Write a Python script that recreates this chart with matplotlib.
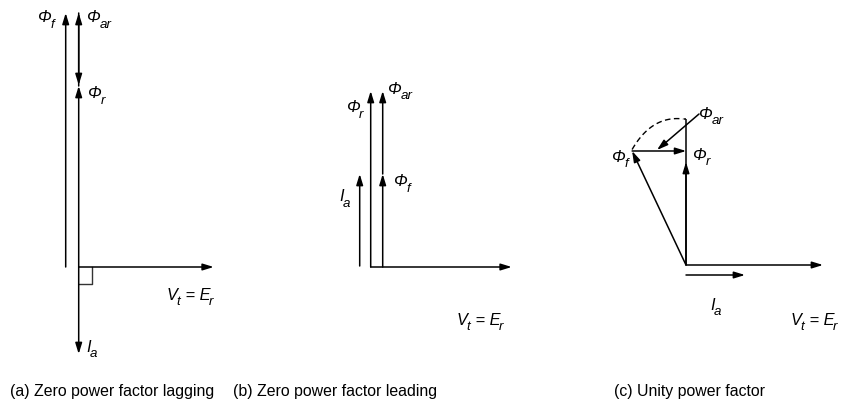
import numpy as np
import matplotlib
matplotlib.use("Agg")
import matplotlib.pyplot as plt

# ---------------- data (phasor magnitudes in diagram units, angles in degrees) -------------
a_names = ["phi_f", "phi_ar", "phi_r", "vt", "ia"]
a_mag = [254, 73, 181, 135, 87]
a_ang = [90, 270, 90, 0, 270]

b_names = ["phi_f", "phi_ar", "phi_r", "vt", "ia"]
b_mag = [93, 83, 176, 141, 92]
b_ang = [90, 90, 90, 0, 90]

c_names = ["phi_f", "phi_ar", "phi_ar_shift", "phi_r", "vt", "ia"]
c_mag = [126.1, 55.3, 54, 103, 137, 59]
c_ang = [115.3, 220.6, 0, 90, 0, 0]
c_phi_f_swing = 146          # length of vertical reference reached by swung Φf

captions = ["(a) Zero power factor lagging",
            "(b) Zero power factor leading",
            "(c) Unity power factor"]

LAB = "Liberation Sans"

fig = plt.figure(figsize=(8.48, 4.10), dpi=100)
ax = fig.add_axes([0, 0, 1, 1])
ax.set_xlim(0, 848)
ax.set_ylim(410, 0)
ax.axis("off")
renderer = fig.canvas.get_renderer()

LW = 1.1


def vec(mag, ang):
    r = np.deg2rad(ang)
    return np.array([mag * np.cos(r), -mag * np.sin(r)])


def arrow(tail, tip, lw=LW):
    ax.annotate("", xy=tuple(tip), xytext=tuple(tail),
                arrowprops=dict(arrowstyle="-|>,head_length=0.65,head_width=0.2",
                                color="black", lw=lw, shrinkA=0, shrinkB=0,
                                mutation_scale=10))


def line(p, q, **kw):
    ax.plot([p[0], q[0]], [p[1], q[1]], color="black", lw=LW,
            solid_capstyle="butt", **kw)


def rich(x, y, pieces, size=11.8):
    cur = x
    for txt, sub in pieces:
        fs = size * (0.82 if sub else 1.0)
        dy = 5.5 if sub else 0
        t = ax.text(cur, y + dy, txt, fontsize=fs, style="italic", family=LAB,
                    ha="left", va="baseline")
        bb = t.get_window_extent(renderer)
        cur += bb.width - (1.0 if not sub else 0)


def phi(x, y, sub):
    rich(x, y, [("Φ", False), (sub, True)])


def vt_er(x, y):
    rich(x, y, [("V", False), ("t", True), (" = E", False), ("r", True)])


def ia(x, y):
    rich(x, y, [("I", False), ("a", True)])


# ---------------- panel (a) ------------------------------------------------------------
A = dict(zip(a_names, range(5)))
oa = np.array([78.7, 268.0])
off_a = np.array([-13.0, 0.0])
f_tip = oa + off_a + vec(a_mag[A["phi_f"]], a_ang[A["phi_f"]])
arrow(oa + off_a, f_tip)
top = oa + vec(a_mag[A["phi_f"]], a_ang[A["phi_f"]])
r_tip = oa + vec(a_mag[A["phi_r"]], a_ang[A["phi_r"]])
arrow(oa, r_tip)
arrow(r_tip, top)
arrow(top, top + vec(a_mag[A["phi_ar"]], a_ang[A["phi_ar"]]) + np.array([0, -1]))
arrow(oa, oa + vec(a_mag[A["vt"]], a_ang[A["vt"]]))
arrow(oa, oa + vec(a_mag[A["ia"]], a_ang[A["ia"]]))
# right-angle marker
ax.plot([oa[0] + 13.5, oa[0] + 13.5, oa[0]], [oa[1], oa[1] + 16.5, oa[1] + 16.5],
        color="#333333", lw=1.0)
phi(38, 22.5, "f")
phi(86.5, 22.5, "ar")
phi(88, 98.5, "r")
vt_er(167, 300)
ia(86, 352)

# ---------------- panel (b) ------------------------------------------------------------
B = dict(zip(b_names, range(5)))
ob = np.array([370.7, 268.0])
off_f = np.array([12.0, 0.0])
off_i = np.array([-11.0, -1.0])
arrow(ob, ob + vec(b_mag[B["phi_r"]], b_ang[B["phi_r"]]))
fb_tip = ob + off_f + vec(b_mag[B["phi_f"]], b_ang[B["phi_f"]])
arrow(ob + off_f, fb_tip)
arrow(fb_tip, fb_tip + vec(b_mag[B["phi_ar"]], b_ang[B["phi_ar"]]))
arrow(ob + off_i, ob + off_i + vec(b_mag[B["ia"]], b_ang[B["ia"]]))
arrow(ob, ob + vec(b_mag[B["vt"]], b_ang[B["vt"]]))
phi(346.5, 112.5, "r")
phi(388, 93.5, "ar")
phi(394, 186.5, "f")
ia(339, 201.5)
vt_er(457, 325)

# ---------------- panel (c) ------------------------------------------------------------
C = dict(zip(c_names, range(6)))
oc = np.array([686.0, 266.0])
fc_tip = oc + vec(c_mag[C["phi_f"]], c_ang[C["phi_f"]])
arrow(oc, fc_tip)
vtop = oc + vec(c_phi_f_swing, 90)
line(oc, vtop)
arrow(oc, oc + vec(c_mag[C["phi_r"]], c_ang[C["phi_r"]]))
arrow(fc_tip, fc_tip + vec(c_mag[C["phi_ar_shift"]], c_ang[C["phi_ar_shift"]]))
ar_start = np.array([699.0, 115.0])
arrow(ar_start, ar_start + vec(c_mag[C["phi_ar"]], c_ang[C["phi_ar"]]))
# dashed swing arc (quadratic Bezier between Φf tip and vertical top)
p0, p2 = fc_tip + np.array([0, -1.5]), vtop + np.array([-2.5, 0])
p1 = np.array([652.0, 116.0])
t = np.linspace(0, 1, 60)[:, None]
bez = (1 - t) ** 2 * p0 + 2 * (1 - t) * t * p1 + t ** 2 * p2
ax.plot(bez[:, 0], bez[:, 1], color="black", lw=1.0, ls=(0, (4, 2.5)))
line(p2, vtop)
arrow(oc, oc + vec(c_mag[C["vt"]], c_ang[C["vt"]]))
ib = oc + np.array([0, 10.0])
arrow(ib, ib + vec(c_mag[C["ia"]], c_ang[C["ia"]]))
phi(699, 119, "ar")
phi(693, 160, "r")
phi(612, 162, "f")
ia(710, 310)
vt_er(791, 325)

# ---------------- captions -------------------------------------------------------------
for xc, cap in zip([10, 233, 614], captions):
    ax.text(xc, 396, cap, fontsize=11.4, family=LAB, ha="left", va="baseline")

fig.savefig("out.png", dpi=100)
